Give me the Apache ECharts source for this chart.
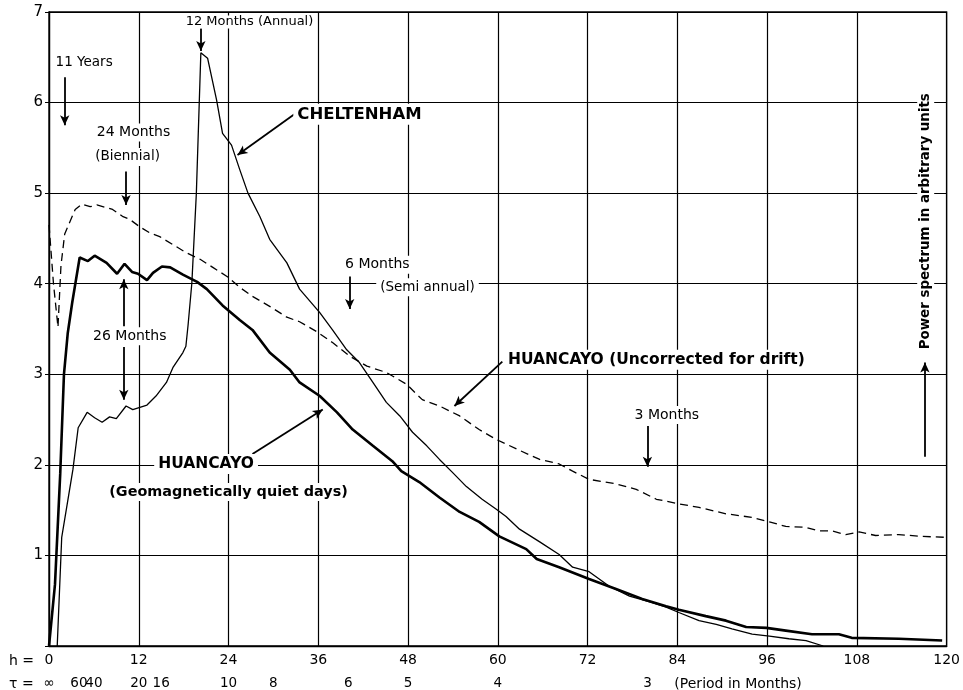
<!DOCTYPE html>
<html><head><meta charset="utf-8">
<script src="https://cdn.jsdelivr.net/npm/echarts@6/dist/echarts.min.js"></script>
<style>html,body{margin:0;padding:0;background:#fff}#c{width:963px;height:690px}</style>
</head><body><div id="c"></div>
<script>
// h (harmonic number) tick labels and period row
const periodPos = [0, 4, 6, 12, 15, 24, 30, 40, 48, 60, 80];
const periodLabels = ['\u221e', '60', '40', '20', '16', '10', '8', '6', '5', '4', '3'];

// [h, power] pairs
const cheltenham = [
[1.1,0],[1.7,1.2],[3.2,1.95],[3.9,2.41],[5.1,2.58],[6.1,2.52],[7.1,2.47],[8.1,2.53],[9.0,2.51],[10.3,2.65],[11.2,2.61],[13.1,2.66],[14.3,2.76],[15.7,2.91],[16.6,3.08],[17.9,3.24],[18.3,3.31],[18.6,3.55],[19.1,4.01],[19.7,5.0],[20.3,6.55],[21.2,6.49],[22.4,6.03],[23.2,5.66],[24.4,5.53],[25.5,5.26],[26.6,5.0],[28.2,4.74],[29.5,4.49],[31.8,4.23],[33.5,3.94],[36.2,3.68],[37.9,3.49],[39.8,3.27],[41.5,3.13],[43.3,2.91],[45.1,2.69],[46.9,2.54],[48.6,2.36],[50.5,2.21],[52.2,2.06],[53.9,1.92],[55.8,1.76],[57.9,1.62],[59.8,1.51],[61.1,1.43],[62.9,1.29],[65.6,1.15],[68.2,1.01],[70.0,0.87],[72.2,0.82],[74.9,0.66],[77.6,0.55],[80.2,0.49],[82.5,0.43],[84.2,0.37],[86.9,0.28],[89.2,0.24],[91.3,0.19],[94.0,0.13],[96.3,0.11],[98.9,0.08],[101.2,0.06],[103.5,0]
];
const huancayoQuiet = [
[0,0],[0.8,0.68],[1.5,1.9],[2.0,3.0],[2.5,3.45],[3.1,3.79],[4.1,4.29],[5.2,4.25],[6.1,4.31],[7.7,4.23],[9.1,4.11],[10.1,4.22],[11.1,4.13],[11.9,4.11],[13.1,4.04],[13.9,4.12],[15.1,4.19],[16.2,4.18],[17.9,4.1],[19.8,4.02],[21.1,3.94],[23.2,3.76],[25.5,3.6],[27.2,3.49],[29.5,3.24],[32.2,3.05],[33.5,2.91],[36.2,2.76],[38.5,2.58],[40.6,2.39],[43.3,2.21],[45.9,2.04],[47.1,1.93],[49.5,1.81],[52.2,1.64],[54.9,1.48],[57.5,1.37],[60.2,1.21],[63.8,1.07],[65.2,0.96],[68.2,0.87],[72.2,0.74],[75.8,0.63],[79.3,0.52],[82.5,0.44],[84.2,0.4],[87.8,0.33],[90.5,0.28],[93.2,0.21],[95.9,0.2],[98.5,0.17],[102.0,0.13],[105.6,0.13],[107.3,0.09],[113.6,0.08],[119.4,0.06]
];
const huancayoUncorrected = [
[0,4.65],[0.6,4.0],[1.2,3.52],[1.6,4.2],[2.1,4.55],[3.5,4.82],[4.4,4.88],[5.5,4.85],[6.4,4.87],[7.7,4.84],[8.5,4.82],[9.9,4.74],[10.8,4.71],[12.1,4.63],[13.5,4.56],[14.8,4.52],[16.6,4.43],[18.4,4.34],[20.2,4.27],[21.9,4.18],[23.8,4.08],[25.5,3.96],[27.2,3.86],[29.5,3.75],[31.8,3.63],[33.5,3.58],[35.8,3.47],[37.9,3.35],[40.2,3.2],[42.5,3.09],[45.1,3.02],[47.8,2.89],[49.9,2.72],[52.2,2.65],[54.9,2.54],[57.5,2.39],[59.8,2.28],[62.9,2.16],[65.6,2.06],[68.2,2.01],[70.0,1.93],[72.2,1.84],[75.8,1.79],[78.5,1.73],[81.2,1.62],[84.2,1.57],[86.9,1.53],[90.5,1.46],[94.0,1.42],[96.3,1.37],[98.5,1.32],[101.2,1.31],[102.9,1.27],[104.7,1.27],[106.5,1.23],[108.3,1.26],[110.5,1.22],[113.6,1.23],[116.7,1.21],[119.9,1.2]
];

// annotation arrows (from -> to, data coords)
const arrows = [
  [[20.3,6.82],[20.3,6.57]],
  [[2.1,6.28],[2.1,5.75]],
  [[10.3,5.24],[10.3,4.87]],
  [[32.8,5.87],[25.2,5.42]],
  [[40.2,4.08],[40.2,3.72]],
  [[10.0,3.53],[10.0,4.05]],
  [[10.0,3.30],[10.0,2.72]],
  [[60.6,3.14],[54.2,2.65]],
  [[80.0,2.43],[80.0,1.98]],
  [[27.2,2.12],[36.6,2.61]],
  [[117.1,2.09],[117.1,3.13]]
];
// annotation texts (data coords of centre)
const notes = [
  {t:'12 Months (Annual)', p:[26.8,6.89], f:'13px "DejaVu Sans"', pad:[0,3]},
  {t:'11 Years', p:[4.7,6.44], f:'13.5px "DejaVu Sans"'},
  {t:'24 Months', p:[11.3,5.67], f:'14px "DejaVu Sans"'},
  {t:'(Biennial)', p:[10.5,5.40], f:'13.5px "DejaVu Sans"'},
  {t:'CHELTENHAM', p:[41.5,5.87], f:'bold 16.5px "DejaVu Sans"'},
  {t:'6 Months', p:[43.9,4.21], f:'14px "DejaVu Sans"'},
  {t:'(Semi annual)', p:[50.6,3.96], f:'13.5px "DejaVu Sans"'},
  {t:'26 Months', p:[10.8,3.42], f:'14px "DejaVu Sans"'},
  {t:'HUANCAYO (Uncorrected for drift)', p:[81.2,3.16], f:'bold 15.5px "DejaVu Sans"'},
  {t:'3 Months', p:[82.6,2.55], f:'14px "DejaVu Sans"'},
  {t:'HUANCAYO', p:[21.0,2.01], f:'bold 15.5px "DejaVu Sans"'},
  {t:'(Geomagnetically quiet days)', p:[24.0,1.70], f:'bold 14.4px "DejaVu Sans"'},
  {t:'Power spectrum in arbitrary units', p:[117.2,4.69], f:'bold 13.4px "DejaVu Sans"', rot:true}
];

const chart = echarts.init(document.getElementById('c'), null, {renderer:'canvas'});
const black = '#000';
chart.setOption({
  backgroundColor:'#fff',
  animation:false,
  grid:{left:49, right:15, top:12, bottom:43, show:true, borderColor:black, borderWidth:1.3, backgroundColor:'transparent'},
  xAxis:[{
    type:'value', min:0, max:120, interval:12,
    axisLine:{lineStyle:{color:black, width:1.3}},
    axisTick:{show:false},
    axisLabel:{color:black, fontSize:14, fontFamily:'DejaVu Sans', margin:7},
    splitLine:{show:true, lineStyle:{color:black, width:1.2}}
  },{
    type:'value', min:0, max:120, position:'bottom', offset:23,
    axisLine:{show:false}, axisTick:{show:false}, splitLine:{show:false},
    axisLabel:{color:black, fontSize:13.5, fontFamily:'DejaVu Sans', margin:7,
      customValues: periodPos,
      formatter:function(v){const i = periodPos.indexOf(v); return i>=0 ? periodLabels[i] : '';}}
  }],
  yAxis:{
    type:'value', min:0, max:7, interval:1,
    axisLine:{lineStyle:{color:black, width:1.3}},
    axisTick:{show:true, length:4, lineStyle:{color:black}},
    axisLabel:{color:black, fontSize:15, fontFamily:'DejaVu Sans', margin:6,
      formatter:function(v){return v===0 ? '' : String(v);}},
    splitLine:{show:true, lineStyle:{color:black, width:1.2}}
  },
  series:[
    {name:'CHELTENHAM', type:'line', data:cheltenham, showSymbol:false, symbol:'none', z:3,
      lineStyle:{color:black, width:1.3}, itemStyle:{color:black},
      markLine:{silent:true, symbol:['none','arrow'], symbolSize:[7,10], precision:3,
        label:{show:false}, lineStyle:{color:black, width:1.8, type:'solid'},
        emphasis:{disabled:true},
        data: arrows.map(a => [{coord:a[0]},{coord:a[1]}])}},
    {name:'HUANCAYO quiet', type:'line', data:huancayoQuiet, showSymbol:false, symbol:'none', z:3,
      lineStyle:{color:black, width:2.6}, itemStyle:{color:black}},
    {name:'HUANCAYO uncorrected', type:'line', data:huancayoUncorrected, showSymbol:false, symbol:'none', z:3,
      lineStyle:{color:black, width:1.3, type:[8,5]}, itemStyle:{color:black}}
  ]
});

const g = [];
notes.forEach(n => {
  const px = chart.convertToPixel({gridIndex:0}, n.p);
  g.push({type:'text', x:px[0], y:px[1], rotation: n.rot ? Math.PI/2 : 0, z:100,
    style:{text:n.t, font:n.f, fill:black, align:'center', verticalAlign:'middle',
      backgroundColor:'#fff', padding:n.pad || [2,4]}});
});
g.push({type:'text', x:9, y:661, z:100, style:{text:'h =', font:'14px "DejaVu Sans"', fill:black, align:'left', verticalAlign:'middle'}});
g.push({type:'text', x:9, y:684, z:100, style:{text:'\u03c4 =', font:'14px "DejaVu Sans"', fill:black, align:'left', verticalAlign:'middle'}});
const pp = chart.convertToPixel({gridIndex:0}, [83.6, 0]);
g.push({type:'text', x:pp[0], y:684, z:100, style:{text:'(Period in Months)', font:'14px "DejaVu Sans"', fill:black, align:'left', verticalAlign:'middle'}});
chart.setOption({graphic:g});
</script></body></html>
